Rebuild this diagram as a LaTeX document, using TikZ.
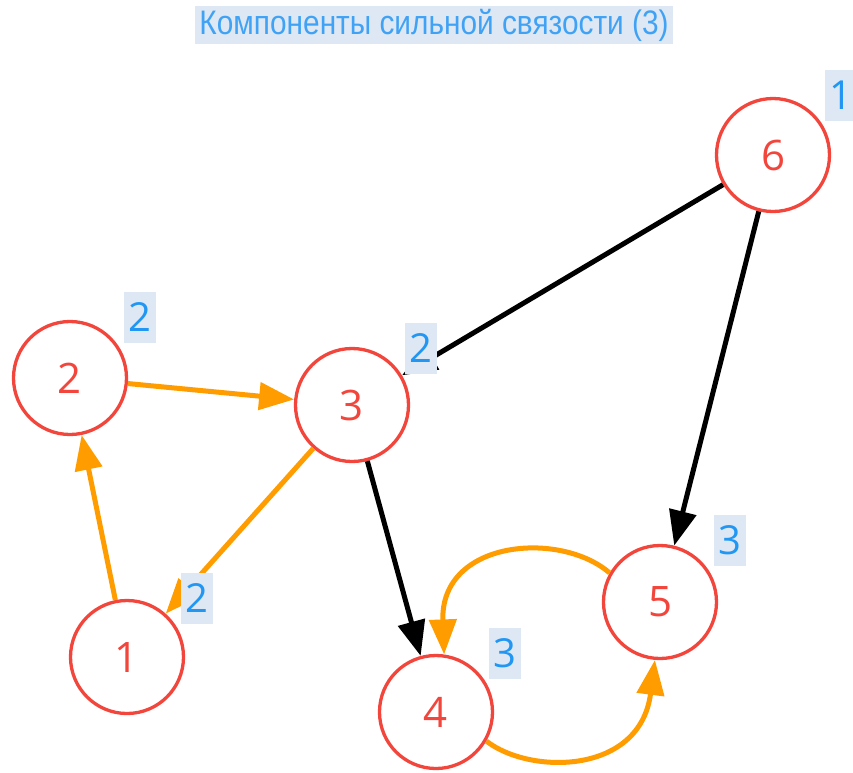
\documentclass[tikz,border=0pt]{standalone}
\usepackage{fontspec}
\usepackage{graphicx}
\setmainfont{Open Sans}
\newfontfamily\titlefont{Liberation Sans}
\usetikzlibrary{arrows.meta}

\definecolor{vertexred}{HTML}{F2463C}
\definecolor{badgeblue}{HTML}{2196F3}
\definecolor{titleblue}{HTML}{3FA2F4}
\definecolor{badgebg}{HTML}{DDE8F4}
\definecolor{sccorange}{HTML}{FF9C00}

\tikzset{
  vertex/.style={circle, draw=vertexred, line width=3.3pt, fill=white,
    minimum size=113pt, inner sep=0pt, text=vertexred,
    font=\fontsize{42}{42}\selectfont},
  badge/.style={fill=badgebg, text=badgeblue, minimum width=32pt,
    minimum height=51pt, inner sep=0pt, font=\fontsize{40}{40}\selectfont},
  arc/.style={line width=5pt, -{Triangle[length=35pt,width=27pt]}},
  treearc/.style={arc, draw=black},
  cyclearc/.style={arc, draw=sccorange},
}

\begin{document}
\begin{tikzpicture}[x=1pt, y=-1pt]
  \useasboundingbox (0,0) rectangle (853,772);

  % heading
  \node[fill=badgebg, text=titleblue, minimum width=478pt, minimum height=38pt,
        inner sep=0pt] (title) at (434,25)
    {\titlefont\fontsize{34}{34}\selectfont\resizebox{469pt}{\height}{Компоненты сильной связости (3)}};

  % vertices
  \node[vertex] (n6) at (773,155) {6};
  \node[vertex] (n2) at (70,378) {2};
  \node[vertex] (n3) at (352,405) {3};
  \node[vertex] (n1) at (127,657) {1};
  \node[vertex] (n4) at (436,712) {4};
  \node[vertex] (n5) at (660,602) {5};

  % arcs between components
  \draw[treearc] (n6) -- (n3);
  \draw[treearc] (n6) -- (n5);
  \draw[treearc] (n3) -- (n4);

  % arcs inside components
  \draw[cyclearc] (n2) -- (n3);
  \draw[cyclearc] (n3) -- (n1);
  \draw[cyclearc] (n1) -- (n2);
  \draw[cyclearc] (n5.150) .. controls (560,530) and (440,540) .. (n4.82);
  \draw[cyclearc] (n4.-30) .. controls (530,775) and (640,775) .. (n5.-95);

  % component numbers
  \node[badge] (b6) at (841,95) {1};
  \node[badge] (b2) at (140,317) {2};
  \node[badge] (b3) at (421,348) {2};
  \node[badge] (b1) at (197,598) {2};
  \node[badge] (b4) at (505,653) {3};
  \node[badge] (b5) at (730,540) {3};
\end{tikzpicture}
\end{document}
